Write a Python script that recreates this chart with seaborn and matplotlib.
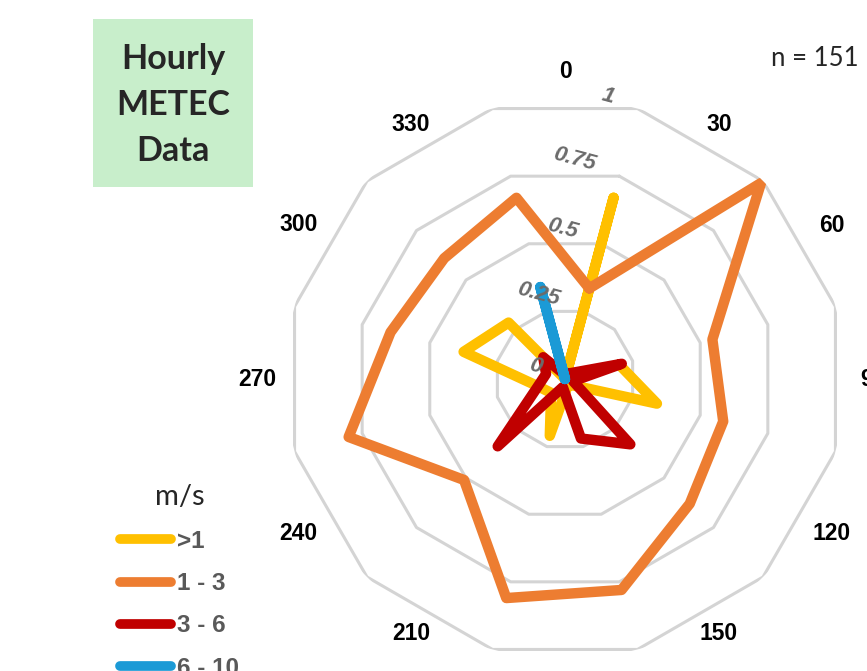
import numpy as np
import pandas as pd
import matplotlib
matplotlib.use("Agg")
import matplotlib.pyplot as plt
import seaborn as sns
from matplotlib.lines import Line2D
from matplotlib.patches import Rectangle

sns.set_style("white")
plt.rcParams['font.family'] = ['Liberation Sans', 'DejaVu Sans']

# wind direction bins (bin centres, degrees) and labels for the bin edges
directions = [15, 45, 75, 105, 135, 165, 195, 225, 255, 285, 315, 345]
edge_labels = [0, 30, 60, 90, 120, 150, 180, 210, 240, 270, 300, 330]
rings = [0.25, 0.5, 0.75, 1.0]
ring_labels = ["0", "0.25", "0.5", "0.75", "1"]

speed_bins = [">1", "1 - 3", "3 - 6", "6 - 10"]
colors = ["#FFC000", "#ED7D31", "#C00000", "#1B9AD6"]

below_1 = [0.67, 0.0, 0.20, 0.34, 0.03, 0.03, 0.21, 0.07, 0.10, 0.375, 0.285, 0.0]
from_1_to_3 = [0.335, 0.99, 0.545, 0.585, 0.63, 0.78, 0.81, 0.51, 0.80, 0.645, 0.61, 0.67]
from_3_to_6 = [0.02, 0.03, 0.21, 0.03, 0.33, 0.22, 0.03, 0.34, 0.10, 0.07, 0.11, 0.02]
from_6_to_10 = [0, 0, 0, 0, 0, 0, 0, 0, 0, 0, 0, 0.34]

series = [below_1, from_1_to_3, from_3_to_6, from_6_to_10]

# long table, first point repeated at +360 to close each loop
rows = []
for name, vals in zip(speed_bins, series):
    for d, v in zip(directions + [directions[0] + 360], vals + [vals[0]]):
        rows.append({"theta": np.deg2rad(d), "r": v, "speed": name})
df = pd.DataFrame(rows)

fig = plt.figure(figsize=(8.67, 6.71), dpi=100)
ax = fig.add_axes([285 / 867, 12 / 671, 560 / 867, 560 / 671], projection="polar")
ax.set_theta_zero_location("N")
ax.set_theta_direction(-1)
ax.grid(False)
ax.spines["polar"].set_visible(False)
ax.set_xticks([])
ax.set_yticks([])
ax.set_facecolor("white")

# polygon gridlines
th = np.deg2rad(directions + [directions[0] + 360])
for r in rings:
    ax.plot(th, [r] * len(th), color="#D4D4D4", lw=2.2, zorder=1)

sns.lineplot(data=df, x="theta", y="r", hue="speed", palette=dict(zip(speed_bins, colors)),
             hue_order=speed_bins, lw=7.5, ax=ax, legend=False, sort=False,
             solid_joinstyle="round", solid_capstyle="round", zorder=3)
ax.set_xlabel("")
ax.set_ylabel("")
ax.set_ylim(0, 1)

# value labels along the first axis
for r, lab in zip([0] + rings, ring_labels):
    ax.annotate(lab, xy=(np.deg2rad(directions[0]), r), xytext=(-17, 8),
                textcoords="offset points", ha="right", va="center",
                rotation=-15, rotation_mode="anchor", fontsize=16,
                fontweight="bold", fontstyle="italic", color="#6B6B6B", zorder=4)

# direction labels (diagonal ones sit a little lower/higher in the original)
for d in edge_labels:
    dy = 0
    if d in (30, 330):
        dy = -9
    elif d in (150, 210):
        dy = 9
    ax.annotate(str(d), xy=(np.deg2rad(d), 1.1), xytext=(0, dy), textcoords="offset points",
                ha="center", va="center", fontsize=16.5, fontweight="bold", color="black",
                annotation_clip=False)

# title box
fig.patches.append(Rectangle((93 / 867, 1 - 187 / 671), 160 / 867, 168 / 671,
                             transform=fig.transFigure, fc="#C8EECB", ec="none", zorder=0))
fig.text(173 / 867, 1 - 105 / 671, "Hourly\nMETEC\nData", ha="center", va="center",
         fontsize=24.5, fontweight="bold", family=["Lato", "DejaVu Sans"], linespacing=1.55)
fig.text(815 / 867, 1 - 58 / 671, "n = 151", ha="center", va="center",
         fontsize=18.5, family=["Lato", "DejaVu Sans"])

# legend
handles = [Line2D([0], [0], color=c, lw=7, solid_capstyle="round") for c in colors]
leg = fig.legend(handles, speed_bins, loc="upper left", bbox_to_anchor=(108 / 867, 1 - 472 / 671),
                 frameon=False, title="m/s", fontsize=17.5, title_fontsize=21, borderpad=0,
                 handlelength=2.1, handletextpad=0.25, labelspacing=0.8)
for t in leg.get_texts():
    t.set_color("#595959")
    t.set_fontweight("bold")
leg.get_title().set_family(["Lato", "DejaVu Sans"])

fig.savefig("out.png", dpi=100)
